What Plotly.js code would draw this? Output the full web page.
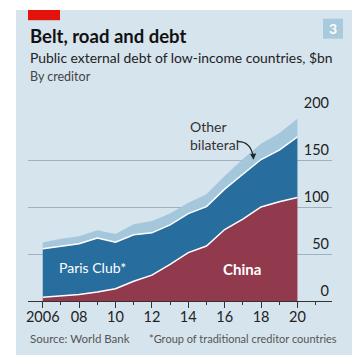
<!DOCTYPE html>
<html>
<head>
<meta charset="utf-8">
<script src="https://cdn.plot.ly/plotly-3.0.1.min.js"></script>
<style>
  html, body { margin: 0; padding: 0; background: #ffffff; width: 362px; height: 362px; overflow: hidden; }
  #chart { position: absolute; left: 16px; top: 10px; width: 336px; height: 345px; }
</style>
</head>
<body>
<div id="chart"></div>
<script>
// ---- data ----
const years = [2006, 2007, 2008, 2009, 2010, 2011, 2012, 2013, 2014, 2015, 2016, 2017, 2018, 2019, 2020];
const china = [4, 5.5, 7, 9.5, 13, 21, 27.5, 39, 51.5, 58.5, 76, 87, 100, 105.5, 110];
const parisClub = [51.5, 52.8, 54, 57.5, 49.6, 49.5, 45, 42, 41.5, 41.9, 43, 47.8, 50.5, 55, 64.5];
const otherBilateral = [6.8, 7.9, 8, 8.3, 8.8, 11.1, 12.5, 12, 11.5, 13.1, 14, 16.2, 16.8, 18, 19.5];
const xTickVals = [2006, 2008, 2010, 2012, 2014, 2016, 2018, 2020];
const xTickText = ['2006', '08', '10', '12', '14', '16', '18', '20'];
const yTickVals = [0, 50, 100, 150, 200];

// ---- layout geometry (div is offset 16,10 in the window) ----
const OX = 16, OY = 10;
const L = 12, T = 103.3, W = 304, H = 188;
const DW = 336, DH = 345;
const px = x => (x - OX - L) / W;
const py = y => 1 - (y - OY - T) / H;

const FONT = 'Lato, "Open Sans", sans-serif';
const BG = '#d6e4ee';
const RED = '#923a4d';
const DARK = '#276e9f';
const LIGHT = '#a4c7dc';

const base = { x: years, type: 'scatter', mode: 'lines', stackgroup: 'one', hoverinfo: 'skip' };
const traces = [
  Object.assign({}, base, { y: china, name: 'China', fillcolor: RED, line: { color: '#ffffff', width: 1.5 } }),
  Object.assign({}, base, { y: parisClub, name: 'Paris Club*', fillcolor: DARK, line: { color: '#ffffff', width: 1.5 } }),
  Object.assign({}, base, { y: otherBilateral, name: 'Other bilateral', fillcolor: LIGHT, line: { color: LIGHT, width: 0 } })
];

const layout = {
  width: DW, height: DH,
  margin: { l: L, r: DW - L - W, t: T, b: DH - T - H, pad: 0 },
  paper_bgcolor: BG, plot_bgcolor: 'rgba(0,0,0,0)',
  showlegend: false,
  font: { family: FONT, color: '#222' },
  xaxis: {
    range: [2005.19, 2021.9],
    tickvals: xTickVals, ticktext: xTickText,
    ticks: 'outside', ticklen: 6, tickwidth: 1, tickcolor: '#333',
    ticklabelstandoff: -3,
    minor: { dtick: 1, tick0: 2006, ticks: 'outside', ticklen: 3, tickwidth: 1, tickcolor: '#333', showgrid: false },
    showline: true, linecolor: '#333', linewidth: 1,
    showgrid: false, zeroline: false,
    tickfont: { family: FONT, size: 14.5, color: '#222' }
  },
  yaxis: {
    range: [0, 200], tickvals: yTickVals,
    side: 'right', ticklabelposition: 'inside top', ticklabeloverflow: 'allow', ticklabelstandoff: -15.5,
    ticks: '', showline: false, zeroline: false,
    showgrid: true, gridcolor: '#9fb2bf', gridwidth: 1,
    tickfont: { family: FONT, size: 14.5, color: '#222' }
  },
  shapes: [
    { type: 'rect', xref: 'paper', yref: 'paper', x0: px(28), x1: px(60), y0: py(10), y1: py(20.5), fillcolor: '#e3120b', line: { width: 0 } },
    { type: 'rect', xref: 'paper', yref: 'paper', x0: px(323), x1: px(343), y0: py(19), y1: py(39), fillcolor: '#a9c9dc', line: { width: 0 } },
    { type: 'path', xref: 'paper', yref: 'paper',
      path: 'M ' + px(237) + ' ' + py(142) + ' Q ' + px(250) + ' ' + py(141) + ' ' + px(253) + ' ' + py(156),
      line: { color: '#222', width: 1.2 } }
  ],
  annotations: [
    { xref: 'paper', yref: 'paper', x: px(28), y: py(36), xanchor: 'left', yanchor: 'middle', showarrow: false,
      text: '<b>Belt, road and debt</b>', font: { family: FONT, size: 18.5, color: '#111' } },
    { xref: 'paper', yref: 'paper', x: px(28), y: py(58), xanchor: 'left', yanchor: 'middle', showarrow: false,
      text: 'Public external debt of low-income countries, $bn', font: { family: FONT, size: 13.9, color: '#222' } },
    { xref: 'paper', yref: 'paper', x: px(28), y: py(77), xanchor: 'left', yanchor: 'middle', showarrow: false,
      text: 'By creditor', font: { family: FONT, size: 12.5, color: '#444' } },
    { xref: 'paper', yref: 'paper', x: px(333), y: py(29), xanchor: 'center', yanchor: 'middle', showarrow: false,
      text: '<b>3</b>', font: { family: FONT, size: 14, color: '#ffffff' } },
    { xref: 'paper', yref: 'paper', x: px(92.5), y: py(268), xanchor: 'center', yanchor: 'middle', showarrow: false,
      text: 'Paris Club*', font: { family: FONT, size: 14, color: '#ffffff' } },
    { xref: 'paper', yref: 'paper', x: px(242), y: py(269), xanchor: 'center', yanchor: 'middle', showarrow: false,
      text: '<b>China</b>', font: { family: FONT, size: 15, color: '#ffffff' } },
    { xref: 'paper', yref: 'paper', x: px(188), y: py(135.5), xanchor: 'left', yanchor: 'middle', showarrow: false, align: 'left',
      text: 'Other<br>bilateral', font: { family: FONT, size: 14, color: '#333' } },
    { xref: 'paper', yref: 'paper', x: px(253.5), y: py(160), showarrow: true, text: '', ax: -0.3, ay: -5,
      arrowhead: 2, arrowsize: 1, arrowwidth: 1.2, arrowcolor: '#222' },
    { xref: 'paper', yref: 'paper', x: px(28), y: py(339), xanchor: 'left', yanchor: 'middle', showarrow: false,
      text: 'Source: World Bank', font: { family: FONT, size: 11.5, color: '#555' } },
    { xref: 'paper', yref: 'paper', x: px(339), y: py(339), xanchor: 'right', yanchor: 'middle', showarrow: false,
      text: '*Group of traditional creditor countries', font: { family: FONT, size: 11, color: '#555' } }
  ]
};

Plotly.newPlot('chart', traces, layout, { staticPlot: true, displayModeBar: false });
</script>
</body>
</html>
